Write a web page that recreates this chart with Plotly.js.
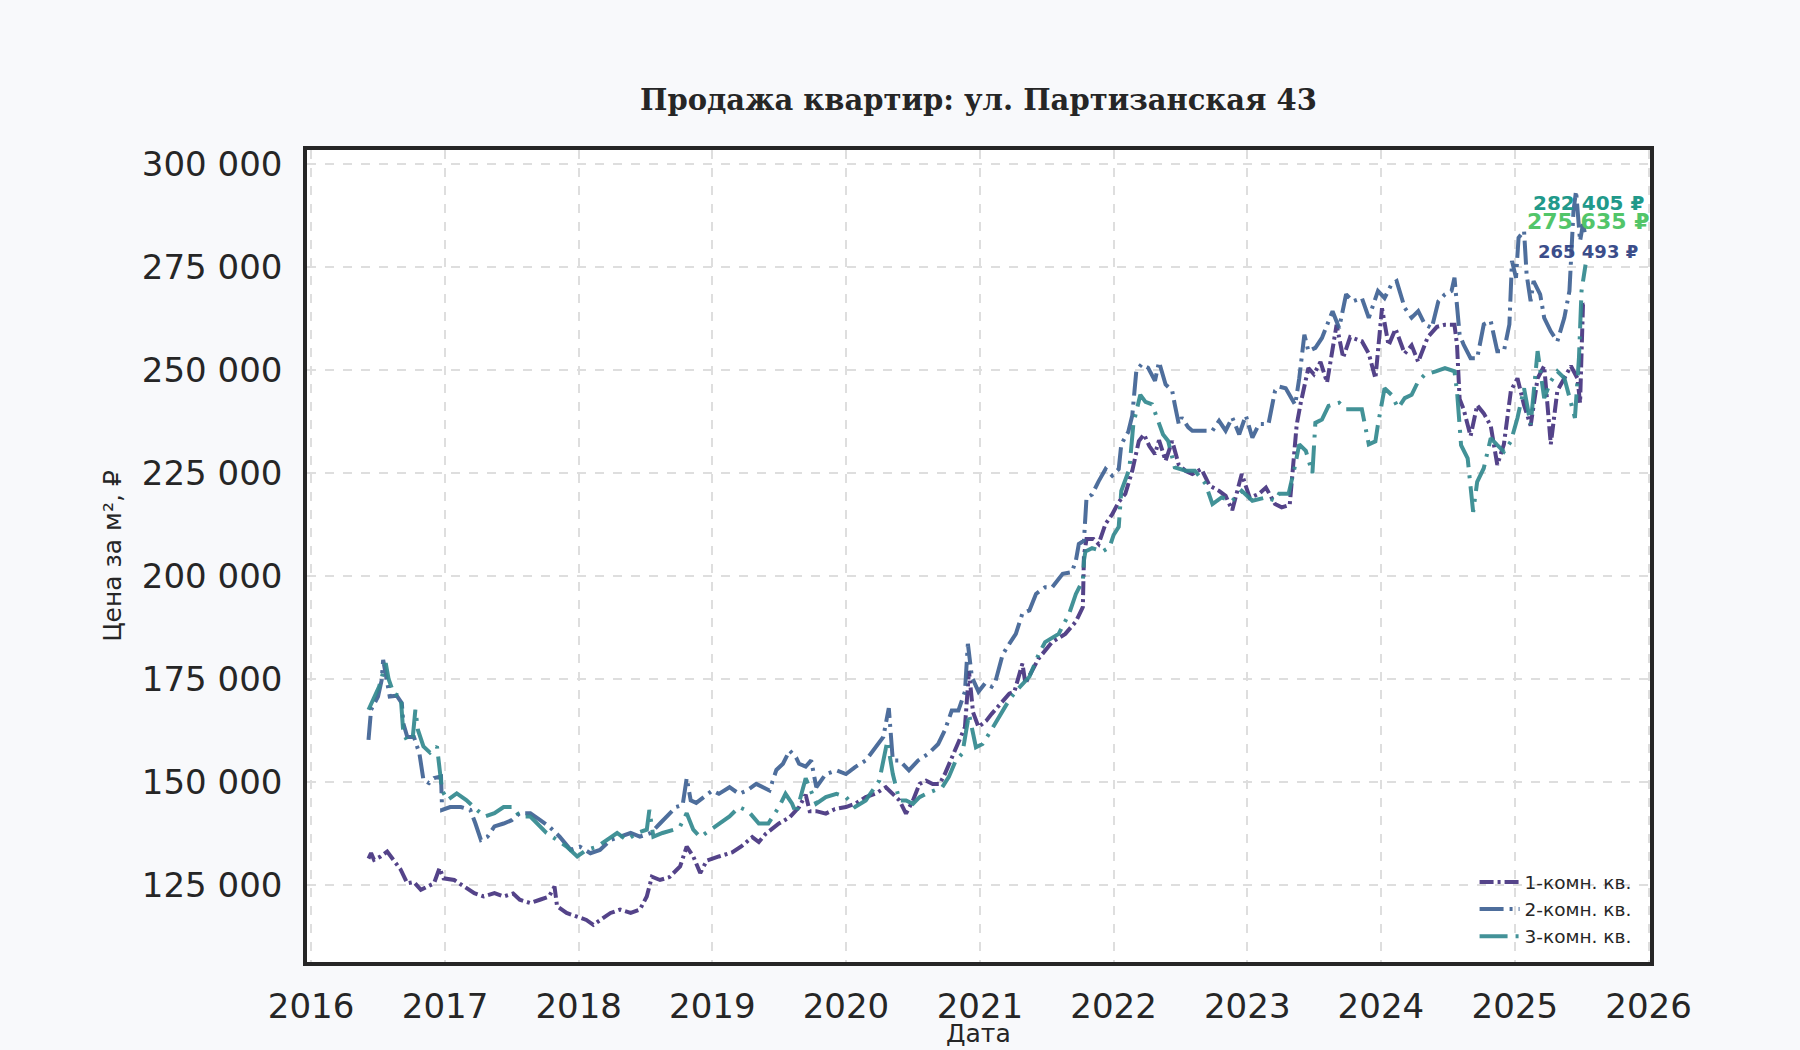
<!DOCTYPE html>
<html>
<head>
<meta charset="utf-8">
<script src="https://cdn.plot.ly/plotly-3.0.1.min.js"></script>
<style>
  body { margin: 0; background: #f8f9fb; }
  #chart { width: 1800px; height: 1050px; }
</style>
</head>
<body>
<div id="chart"></div>
<script>
// [year (decimal), price per m2 (thousand rub)]
const room1 = [
  [2016.43,131.5],[2016.45,132.8],[2016.47,131.2],[2016.52,132.0],[2016.57,133.2],[2016.62,131.0],[2016.67,128.8],
  [2016.72,125.5],[2016.77,125.8],[2016.82,123.9],[2016.87,124.6],[2016.92,125.5],[2016.96,129.2],[2016.99,126.7],
  [2017.07,126.3],[2017.14,124.7],[2017.22,123.1],[2017.29,122.3],[2017.37,123.1],[2017.44,122.3],[2017.51,123.0],
  [2017.56,121.5],[2017.64,120.7],[2017.71,121.5],[2017.78,122.3],[2017.82,124.7],[2017.84,119.9],[2017.91,118.3],
  [2017.99,117.4],[2018.06,116.6],[2018.11,115.4],[2018.16,116.6],[2018.24,118.3],[2018.31,119.1],[2018.39,118.3],
  [2018.46,119.1],[2018.51,122.3],[2018.55,127.1],[2018.61,126.3],[2018.68,127.0],[2018.76,129.6],[2018.81,134.4],
  [2018.86,132.0],[2018.91,128.0],[2018.96,131.0],[2019.05,132.0],[2019.15,133.0],[2019.22,134.5],[2019.30,136.7],
  [2019.35,135.5],[2019.40,137.5],[2019.50,140.0],[2019.58,141.5],[2019.65,144.0],[2019.70,147.0],[2019.73,143.0],
  [2019.78,143.0],[2019.85,142.4],[2019.92,143.5],[2020.00,144.0],[2020.07,144.8],[2020.15,146.4],[2020.22,147.2],
  [2020.30,148.8],[2020.35,147.2],[2020.40,145.6],[2020.45,142.4],[2020.50,145.6],[2020.55,149.6],[2020.60,150.4],
  [2020.65,149.6],[2020.70,149.6],[2020.74,152.0],[2020.79,156.0],[2020.84,159.3],[2020.89,163.4],[2020.92,177.0],
  [2020.95,167.0],[2020.99,163.4],[2021.05,165.0],[2021.09,166.6],[2021.15,169.0],[2021.22,171.5],[2021.26,172.0],
  [2021.32,178.8],[2021.34,174.0],[2021.44,180.0],[2021.54,184.0],[2021.64,186.0],[2021.72,189.0],[2021.77,192.5],
  [2021.78,205.0],[2021.80,209.0],[2021.85,209.0],[2021.89,207.8],[2021.94,212.7],[2021.99,215.0],[2022.04,218.0],
  [2022.09,220.0],[2022.14,225.6],[2022.19,232.8],[2022.23,234.4],[2022.27,231.5],[2022.31,229.6],[2022.34,233.0],
  [2022.39,228.0],[2022.44,232.8],[2022.49,227.0],[2022.54,225.5],[2022.59,224.8],[2022.66,226.0],[2022.72,222.0],
  [2022.79,220.7],[2022.84,219.5],[2022.89,216.0],[2022.96,224.8],[2023.02,219.0],[2023.09,220.0],[2023.14,221.5],
  [2023.21,217.5],[2023.26,216.7],[2023.32,217.3],[2023.35,228.0],[2023.37,236.7],[2023.40,242.0],[2023.46,250.5],
  [2023.50,249.0],[2023.55,252.0],[2023.60,247.0],[2023.67,261.0],[2023.72,253.0],[2023.77,258.0],[2023.86,257.0],
  [2023.91,254.0],[2023.96,248.0],[2024.01,265.0],[2024.06,256.0],[2024.11,260.0],[2024.18,254.0],[2024.23,256.0],
  [2024.28,252.0],[2024.35,258.0],[2024.42,260.5],[2024.48,261.0],[2024.55,261.0],[2024.57,256.0],[2024.59,243.0],
  [2024.62,240.5],[2024.67,234.0],[2024.72,241.5],[2024.77,239.5],[2024.82,236.5],[2024.87,227.0],[2024.92,232.0],
  [2024.97,245.0],[2025.02,248.0],[2025.07,241.5],[2025.12,236.5],[2025.17,248.0],[2025.22,251.0],[2025.27,232.0],
  [2025.32,245.0],[2025.37,248.0],[2025.42,251.0],[2025.47,248.0],[2025.49,242.0],[2025.51,266.0],[2025.53,265.5]
];

const room2 = [
  [2016.43,160.3],[2016.45,167.6],[2016.50,170.8],[2016.53,174.8],[2016.54,179.7],[2016.56,176.0],[2016.59,170.8],
  [2016.64,171.0],[2016.68,169.2],[2016.69,164.3],[2016.72,161.0],[2016.77,161.0],[2016.81,157.0],[2016.84,150.6],
  [2016.88,149.8],[2016.92,151.0],[2016.97,151.4],[2016.98,143.3],[2017.04,144.0],[2017.12,144.0],[2017.19,143.3],
  [2017.23,140.0],[2017.27,136.0],[2017.32,136.8],[2017.37,139.3],[2017.44,140.0],[2017.50,140.8],[2017.56,142.5],
  [2017.64,142.5],[2017.71,140.9],[2017.78,139.3],[2017.86,136.8],[2017.94,133.6],[2018.01,134.4],[2018.09,132.8],
  [2018.16,133.6],[2018.24,136.0],[2018.31,136.8],[2018.39,137.7],[2018.46,136.8],[2018.54,137.7],[2018.61,140.0],
  [2018.66,141.7],[2018.73,144.0],[2018.78,144.5],[2018.81,151.0],[2018.84,145.6],[2018.88,145.0],[2018.94,146.5],
  [2019.00,148.0],[2019.05,147.2],[2019.13,148.8],[2019.20,147.2],[2019.26,148.0],[2019.33,149.6],[2019.38,148.8],
  [2019.43,148.0],[2019.48,153.0],[2019.53,154.5],[2019.58,157.7],[2019.63,156.0],[2019.65,154.5],[2019.70,153.8],
  [2019.74,155.3],[2019.78,148.8],[2019.85,152.0],[2019.93,152.9],[2020.00,152.0],[2020.07,153.7],[2020.15,155.3],
  [2020.22,158.5],[2020.28,161.0],[2020.32,168.0],[2020.35,155.3],[2020.40,155.3],[2020.47,152.9],[2020.54,155.3],
  [2020.62,157.0],[2020.69,159.3],[2020.74,162.6],[2020.79,167.4],[2020.84,167.4],[2020.89,172.0],[2020.91,183.6],
  [2020.94,175.5],[2020.99,172.0],[2021.04,174.0],[2021.09,173.2],[2021.12,174.7],[2021.17,181.0],[2021.22,183.6],
  [2021.27,186.0],[2021.32,191.0],[2021.37,191.7],[2021.42,195.7],[2021.49,197.3],[2021.54,197.3],[2021.62,200.6],
  [2021.69,201.0],[2021.72,203.8],[2021.74,207.8],[2021.78,208.6],[2021.80,219.0],[2021.84,219.8],[2021.89,223.0],
  [2021.94,226.0],[2021.99,224.4],[2022.04,226.0],[2022.06,232.0],[2022.11,235.0],[2022.14,239.0],[2022.17,249.8],
  [2022.21,251.4],[2022.26,250.6],[2022.31,247.4],[2022.34,252.0],[2022.39,246.5],[2022.44,245.0],[2022.46,241.7],
  [2022.49,236.9],[2022.51,238.5],[2022.56,236.1],[2022.59,235.3],[2022.66,235.3],[2022.74,235.3],[2022.79,237.7],
  [2022.84,235.3],[2022.89,238.5],[2022.94,234.4],[2022.99,239.0],[2023.04,233.6],[2023.09,236.9],[2023.16,236.9],
  [2023.21,245.0],[2023.24,246.0],[2023.29,245.6],[2023.36,241.6],[2023.39,248.0],[2023.43,258.6],[2023.46,254.6],
  [2023.51,255.4],[2023.56,257.8],[2023.64,264.3],[2023.69,260.2],[2023.74,268.4],[2023.79,266.7],[2023.86,267.5],
  [2023.91,262.7],[2023.98,269.2],[2024.03,267.5],[2024.08,270.8],[2024.12,271.6],[2024.18,265.1],[2024.23,262.7],
  [2024.28,264.3],[2024.33,261.1],[2024.38,260.2],[2024.43,266.7],[2024.48,268.4],[2024.53,269.2],[2024.55,272.4],
  [2024.59,258.6],[2024.62,256.2],[2024.67,252.9],[2024.72,252.9],[2024.77,261.1],[2024.82,261.9],[2024.87,254.6],
  [2024.92,254.6],[2024.96,261.1],[2024.98,276.5],[2025.01,272.4],[2025.03,282.1],[2025.07,283.8],[2025.09,273.2],
  [2025.12,266.7],[2025.14,271.6],[2025.19,268.4],[2025.22,262.7],[2025.27,259.4],[2025.32,257.0],[2025.37,262.7],
  [2025.41,269.2],[2025.44,288.6],[2025.46,293.5],[2025.49,281.3],[2025.51,285.4],[2025.53,282.4]
];

const room3 = [
  [2016.43,167.6],[2016.47,170.8],[2016.51,173.2],[2016.56,178.9],[2016.58,175.0],[2016.62,171.5],[2016.67,170.8],
  [2016.69,162.0],[2016.72,160.0],[2016.76,161.0],[2016.78,167.6],[2016.80,162.7],[2016.84,158.7],[2016.89,157.2],
  [2016.94,158.7],[2016.98,148.0],[2017.02,145.7],[2017.09,147.3],[2017.16,145.7],[2017.24,143.3],[2017.30,141.7],
  [2017.37,142.5],[2017.44,144.0],[2017.51,144.0],[2017.56,141.7],[2017.64,141.7],[2017.69,140.0],[2017.76,137.7],
  [2017.84,136.0],[2017.91,134.4],[2017.99,132.0],[2018.06,133.6],[2018.14,134.4],[2018.21,136.0],[2018.29,137.7],
  [2018.36,136.0],[2018.44,137.7],[2018.51,138.5],[2018.53,143.3],[2018.56,136.8],[2018.63,137.7],[2018.71,138.5],
  [2018.76,139.3],[2018.81,142.5],[2018.86,138.5],[2018.91,136.7],[2018.98,138.3],[2019.06,140.0],[2019.13,141.7],
  [2019.20,144.0],[2019.27,143.0],[2019.35,140.0],[2019.42,140.0],[2019.50,144.0],[2019.55,147.2],[2019.60,144.8],
  [2019.63,142.4],[2019.70,151.0],[2019.74,148.0],[2019.78,144.8],[2019.85,146.4],[2019.93,147.2],[2020.00,146.4],
  [2020.07,144.0],[2020.15,145.6],[2020.20,148.0],[2020.25,150.4],[2020.31,160.0],[2020.35,152.0],[2020.40,145.6],
  [2020.45,145.6],[2020.50,144.8],[2020.55,146.4],[2020.60,147.2],[2020.67,148.0],[2020.72,148.8],[2020.77,151.3],
  [2020.82,155.3],[2020.87,157.0],[2020.92,166.6],[2020.97,158.5],[2021.02,159.3],[2021.07,161.8],[2021.15,166.0],
  [2021.22,170.0],[2021.28,172.5],[2021.37,175.6],[2021.44,181.0],[2021.49,184.0],[2021.59,186.0],[2021.67,191.0],
  [2021.72,195.7],[2021.77,199.0],[2021.78,203.8],[2021.79,206.0],[2021.84,206.8],[2021.92,206.0],[2021.97,207.0],
  [2022.00,210.0],[2022.04,212.0],[2022.06,220.7],[2022.12,226.0],[2022.15,237.0],[2022.20,244.0],[2022.24,242.3],
  [2022.29,241.7],[2022.33,237.7],[2022.37,234.4],[2022.41,232.8],[2022.46,226.4],[2022.54,225.6],[2022.61,225.6],
  [2022.69,222.4],[2022.74,217.5],[2022.81,219.1],[2022.89,218.3],[2022.96,220.7],[2023.04,218.3],[2023.14,219.1],
  [2023.21,218.3],[2023.24,220.0],[2023.31,220.0],[2023.36,227.0],[2023.39,232.0],[2023.44,230.4],[2023.49,225.0],
  [2023.51,237.2],[2023.56,238.0],[2023.61,241.3],[2023.69,242.1],[2023.74,240.5],[2023.81,240.5],[2023.86,240.5],
  [2023.91,232.0],[2023.96,232.7],[2023.98,236.8],[2024.03,245.6],[2024.08,244.0],[2024.13,240.8],[2024.18,243.2],
  [2024.23,244.0],[2024.28,247.3],[2024.33,248.9],[2024.41,249.7],[2024.48,250.5],[2024.55,249.7],[2024.57,244.8],
  [2024.60,231.8],[2024.65,228.6],[2024.69,215.6],[2024.72,222.9],[2024.77,226.2],[2024.82,233.5],[2024.87,231.8],
  [2024.92,230.2],[2024.97,232.7],[2025.02,238.4],[2025.07,245.6],[2025.12,236.8],[2025.17,254.6],[2025.22,243.2],
  [2025.27,247.3],[2025.32,249.7],[2025.37,248.1],[2025.41,243.2],[2025.45,238.4],[2025.48,253.0],[2025.50,269.2],
  [2025.53,275.6]
];

const seriesNames = ['1-комн. кв.', '2-комн. кв.', '3-комн. кв.'];
const seriesColors = ['#463480', '#3f6294', '#33898f'];
const seriesDash = ['14px,4px,3px,4px', '24px,6px,3px,6px', '28px,8px,3px,8px'];

const lastLabels = ['282 405 ₽', '275 635 ₽', '265 493 ₽'];
const lastLabelColors = ['#21998a', '#52c569', '#3b4d8a'];

const yearTicks = [2016, 2017, 2018, 2019, 2020, 2021, 2022, 2023, 2024, 2025, 2026];

// decimal year -> 'YYYY-MM-DD'
function yearToDate(v) {
  const y = Math.floor(v);
  const a = Date.UTC(y, 0, 1), b = Date.UTC(y + 1, 0, 1);
  return new Date(a + (v - y) * (b - a)).toISOString().slice(0, 10);
}

const allSeries = [room1, room2, room3];
const data = allSeries.map((s, i) => ({
  x: s.map(p => yearToDate(p[0])),
  y: s.map(p => p[1] * 1000),
  mode: 'lines',
  name: seriesNames[i],
  opacity: 0.92,
  line: { color: seriesColors[i], width: 4, dash: seriesDash[i] },
  hovertemplate: '%{x}<br>%{y:,.0f} ₽<extra></extra>'
}));

const txt = '#262626';
const grid = { showgrid: true, gridcolor: '#dedede', gridwidth: 2, griddash: 'dash',
               zeroline: false, showline: true, mirror: true, linecolor: '#262626', linewidth: 3.5,
               ticks: 'outside', ticklen: 14, tickcolor: 'rgba(0,0,0,0)',
               tickfont: { family: 'DejaVu Sans', size: 34, color: txt } };

const labelX = yearToDate(2025.553);
const layout = {
  width: 1800, height: 1050,
  paper_bgcolor: '#f8f9fb', plot_bgcolor: '#ffffff',
  margin: { l: 307, r: 150, t: 150, b: 88 },
  separators: '. ',
  title: { text: '<b>Продажа квартир: ул. Партизанская 43</b>',
           font: { family: 'DejaVu Serif', size: 29, color: txt },
           x: 0.5, xref: 'paper', y: 1 - 100 / 1050, yref: 'container', yanchor: 'middle' },
  xaxis: Object.assign({}, grid, {
    type: 'date',
    ticklen: 11,
    range: [yearToDate(2015.97), yearToDate(2026.012)],
    tickvals: yearTicks.map(y => y + '-01-01'),
    ticktext: yearTicks.map(String)
  }),
  yaxis: Object.assign({}, grid, {
    range: [106400, 303400],
    tick0: 0, dtick: 25000, tickformat: ',d',
    title: { text: 'Цена за м², ₽', font: { family: 'DejaVu Sans', size: 25, color: txt }, standoff: 14 }
  }),
  legend: { x: 0.99, xanchor: 'right', y: 0.008, yanchor: 'bottom', itemwidth: 40,
            bgcolor: 'rgba(0,0,0,0)', font: { family: 'DejaVu Sans', size: 18.5, color: txt } },
  showlegend: true,
  annotations: [
    // x-axis title, placed low under the tick labels
    { x: 0.5, xref: 'paper', y: -0.088, yref: 'paper', text: 'Дата', showarrow: false,
      xanchor: 'center', yanchor: 'middle', font: { family: 'DejaVu Sans', size: 25, color: txt } },
    { x: labelX, y: 290600, text: '<b>' + lastLabels[0] + '</b>', showarrow: false, xanchor: 'center', yanchor: 'middle',
      font: { family: 'DejaVu Sans', size: 20, color: lastLabelColors[0] } },
    { x: labelX, y: 286000, text: '<b>' + lastLabels[1] + '</b>', showarrow: false, xanchor: 'center', yanchor: 'middle',
      font: { family: 'DejaVu Sans', size: 22, color: lastLabelColors[1] } },
    { x: labelX, y: 278700, text: '<b>' + lastLabels[2] + '</b>', showarrow: false, xanchor: 'center', yanchor: 'middle',
      font: { family: 'DejaVu Sans', size: 18, color: lastLabelColors[2] } }
  ]
};

Plotly.newPlot('chart', data, layout, { displayModeBar: false });
</script>
</body>
</html>
